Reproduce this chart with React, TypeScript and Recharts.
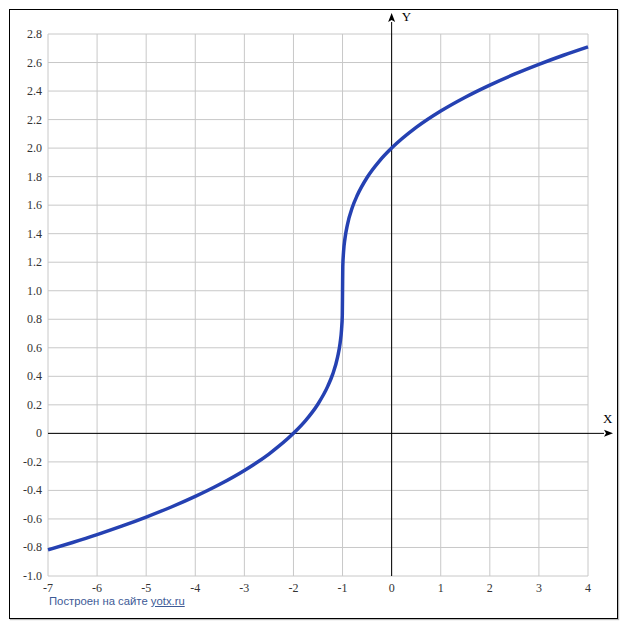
import React from "react";
import { CartesianGrid, Line, LineChart, ReferenceLine, XAxis, YAxis } from "recharts";

// points
const xValues = [
  -7, -6.5, -6, -5.5, -5, -4.5, -4, -3.5, -3, -2.5, -2, -1.75, -1.5, -1.3, -1.2, -1.1, -1.05, -1.02,
  -1.005, -1, -0.995, -0.98, -0.95, -0.9, -0.8, -0.7, -0.5, -0.25, 0, 0.5, 1, 1.5, 2, 2.5, 3, 3.5, 4
];
const yValues = [
  -0.817, -0.765, -0.71, -0.651, -0.587, -0.518, -0.442, -0.357, -0.26, -0.145, 0, 0.091, 0.206, 0.331,
  0.415, 0.536, 0.632, 0.729, 0.829, 1, 1.171, 1.271, 1.368, 1.464, 1.585, 1.669, 1.794, 1.909, 2, 2.145,
  2.26, 2.357, 2.442, 2.518, 2.587, 2.651, 2.71
];

const xTicks = [-7, -6, -5, -4, -3, -2, -1, 0, 1, 2, 3, 4];
const yTicks = [-1, -0.8, -0.6, -0.4, -0.2, 0, 0.2, 0.4, 0.6, 0.8, 1, 1.2, 1.4, 1.6, 1.8, 2, 2.2, 2.4, 2.6, 2.8];

const data = xValues.map((x, i) => ({ x, y: yValues[i] }));

const SERIF = "'Liberation Serif', 'DejaVu Serif', serif";

function fmtY(v: number) {
  if (v === 0) return "0";
  return v.toFixed(1);
}

function XTick(props: any) {
  const { x, y, payload } = props;
  return (
    <text x={x} y={y + 9} textAnchor="middle" fontFamily={SERIF} fontSize={12} fill="#333">
      {String(payload.value)}
    </text>
  );
}

function YTick(props: any) {
  const { x, y, payload } = props;
  return (
    <text x={x} y={y + 4} textAnchor="end" fontFamily={SERIF} fontSize={12} fill="#333">
      {fmtY(payload.value)}
    </text>
  );
}

function XAxisArrow(props: any) {
  const y = props.y1;
  const left = Math.min(props.x1, props.x2);
  const right = Math.max(props.x1, props.x2) + 16;
  return (
    <g>
      <line x1={left} y1={y} x2={right} y2={y} stroke="#000" strokeWidth={1} />
      <polygon points={`${right + 9},${y} ${right},${y - 3.5} ${right + 2},${y} ${right},${y + 3.5}`} fill="#000" />
      <text x={right - 1} y={y - 10} fontFamily={SERIF} fontSize={13} fill="#000">
        X
      </text>
    </g>
  );
}

function YAxisArrow(props: any) {
  const x = props.x1;
  const bottom = Math.max(props.y1, props.y2);
  const top = Math.min(props.y1, props.y2) - 12;
  return (
    <g>
      <line x1={x} y1={bottom} x2={x} y2={top} stroke="#000" strokeWidth={1} />
      <polygon points={`${x},${top - 9} ${x - 3.5},${top} ${x},${top - 2} ${x + 3.5},${top}`} fill="#000" />
      <text x={x + 10} y={top - 1} fontFamily={SERIF} fontSize={13} fill="#000">
        Y
      </text>
    </g>
  );
}

export default function App() {
  return (
    <div style={{ position: "absolute", left: 0, top: 0, width: 627, height: 630, background: "#fff" }}>
      <div
        style={{
          position: "absolute",
          left: 9,
          top: 9,
          width: 609,
          height: 610,
          boxSizing: "border-box",
          border: "1px solid #000",
          boxShadow: "1px 1px 1px #bbb"
        }}
      />
      <div style={{ position: "absolute", left: 0, top: 0 }}>
        <LineChart width={627} height={630} data={data} margin={{ top: 34, right: 39, bottom: 34, left: 10 }}>
          <CartesianGrid stroke="#c8c8c8" strokeWidth={1} />
          <XAxis
            dataKey="x"
            type="number"
            domain={[-7, 4]}
            ticks={xTicks}
            interval={0}
            axisLine={false}
            tickLine={false}
            tickSize={0}
            tickMargin={7}
            height={20}
            tick={<XTick />}
          />
          <YAxis
            type="number"
            domain={[-1, 2.8]}
            ticks={yTicks}
            interval={0}
            axisLine={false}
            tickLine={false}
            tickSize={0}
            tickMargin={6}
            width={38}
            tick={<YTick />}
          />
          <ReferenceLine y={0} shape={XAxisArrow} />
          <ReferenceLine x={0} shape={YAxisArrow} />
          <Line
            dataKey="y"
            type="monotone"
            stroke="#2541b2"
            strokeWidth={3.5}
            dot={false}
            isAnimationActive={false}
          />
        </LineChart>
      </div>
      <div
        style={{
          position: "absolute",
          left: 49,
          top: 595,
          fontFamily: "'Liberation Sans', Arial, sans-serif",
          fontSize: 11.3,
          color: "#3d5a96"
        }}
      >
        Построен на сайте <span style={{ textDecoration: "underline" }}>yotx.ru</span>
      </div>
    </div>
  );
}
